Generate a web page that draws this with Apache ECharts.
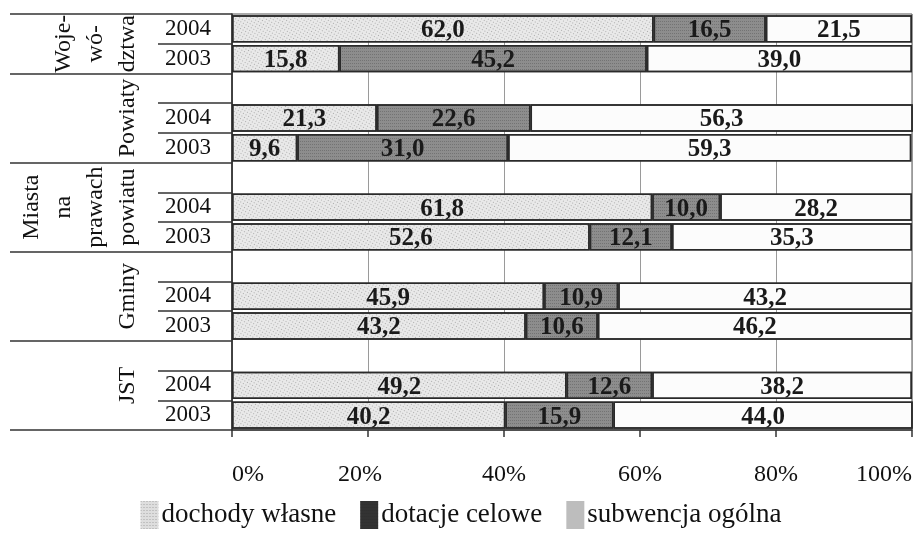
<!DOCTYPE html>
<html>
<head>
<meta charset="utf-8">
<script src="https://cdn.jsdelivr.net/npm/echarts@6/dist/echarts.min.js"></script>
<style>
html,body{margin:0;padding:0;background:#fff;}
#chart{width:922px;height:536px;}
</style>
</head>
<body>
<div id="chart"></div>
<script>
// ---- data ----
const groupLabels = ['Woje-\nwó-\ndztwa', 'Powiaty', 'Miasta\nna\nprawach\npowiatu', 'Gminy', 'JST'];
const years = ['2004', '2003'];
const seriesNames = ['dochody własne', 'dotacje celowe', 'subwencja ogólna'];
// rows top to bottom; null = blank spacer row
const dochody   = [62.0, 15.8, null, 21.3,  9.6, null, 61.8, 52.6, null, 45.9, 43.2, null, 49.2, 40.2];
const dotacje   = [16.5, 45.2, null, 22.6, 31.0, null, 10.0, 12.1, null, 10.9, 10.6, null, 12.6, 15.9];
const subwencja = [21.5, 39.0, null, 56.3, 59.3, null, 28.2, 35.3, null, 43.2, 46.2, null, 38.2, 44.0];
const xTicks = [0, 20, 40, 60, 80, 100];

// ---- build categories ----
const cats = [];
const catYear = [];
const groupRows = [];
groupLabels.forEach((g, gi) => {
  const rows = [];
  if (gi > 0) { rows.push(cats.length); cats.push('g' + gi + '_'); catYear.push(''); }
  years.forEach(y => { rows.push(cats.length); cats.push('g' + gi + '_' + y); catYear.push(y); });
  groupRows.push(rows);
});
const groupStart = groupRows.map(r => r[0]);

const FONT = '"Liberation Serif", "Times New Roman", serif';
const fmt = v => (v == null ? '' : v.toFixed(1).replace('.', ','));

const colors = ['#e9e9e9', '#8d8d8d', '#fcfcfc'];
const decals = [
  { symbol: 'rect', symbolSize: 1, dashArrayX: [1, 2], dashArrayY: [1, 2], color: 'rgba(60,60,60,0.35)' },
  { symbol: 'rect', symbolSize: 1, dashArrayX: [1, 1], dashArrayY: [1, 2], color: 'rgba(40,40,40,0.25)' },
  { symbol: 'none' }
];
const legendColors = ['#dedede', '#333333', '#bdbdbd'];

const chart = echarts.init(document.getElementById('chart'), null, { renderer: 'canvas' });

const option = {
  backgroundColor: '#ffffff',
  animation: false,
  aria: { enabled: true, decal: { show: true } },
  grid: { left: 232, right: 10, top: 14, bottom: 106, containLabel: false, show: true, borderColor: '#555', borderWidth: 1 },
  xAxis: {
    type: 'value', min: 0, max: 100, interval: 20,
    axisLine: { show: true, lineStyle: { color: '#333', width: 1.5 } },
    axisTick: { show: true, length: 7, inside: false, lineStyle: { color: '#333', width: 1.5 } },
    splitLine: { show: true, lineStyle: { color: '#9a9a9a', width: 1 } },
    axisLabel: {
      margin: 33, fontSize: 24, fontFamily: FONT, color: '#111',
      alignMinLabel: 'left', alignMaxLabel: 'right',
      formatter: v => (v === 20 ? '{l|20%}' : v + '%'),
      rich: { l: { fontSize: 24, fontFamily: FONT, color: '#111', padding: [0, 16, 0, 0] } }
    }
  },
  yAxis: [
    {
      type: 'category', inverse: true, data: cats,
      axisLine: { show: true, lineStyle: { color: '#222', width: 1.5 } },
      axisTick: { show: true, length: 74, interval: 0, lineStyle: { color: '#333', width: 1.5 } },
      axisLabel: { margin: 21, fontSize: 23, fontFamily: FONT, color: '#111', interval: 0,
        formatter: (v, i) => catYear[i] },
      splitLine: { show: false }
    },
    {
      type: 'category', inverse: true, data: cats, position: 'left', offset: 0,
      axisLine: { show: false },
      axisTick: { show: true, length: 222, interval: (i) => groupStart.indexOf(i) >= 0,
        lineStyle: { color: '#333', width: 1.5 } },
      axisLabel: { show: false },
      splitLine: { show: false }
    }
  ],
  legend: {
    bottom: 2, left: 'center', icon: 'rect', itemWidth: 18, itemHeight: 28, itemGap: 24,
    textStyle: { fontSize: 27, fontFamily: FONT, color: '#111', padding: [0, 0, 0, -2] },
    data: seriesNames.map((n, i) => ({ name: n, itemStyle: { color: legendColors[i], borderWidth: 0, decal: decals[i] } }))
  },
  series: [dochody, dotacje, subwencja].map((arr, i) => ({
    name: seriesNames[i], type: 'bar', stack: 'total', yAxisIndex: 0,
    barCategoryGap: '8%',
    data: arr,
    itemStyle: { color: colors[i], borderColor: '#2a2a2a', borderWidth: 1.5, decal: decals[i] },
    label: { show: true, position: 'inside', offset: [0, 2], formatter: p => fmt(p.value),
      fontSize: 25, fontWeight: 'bold', fontFamily: FONT, color: '#1a1a1a' }
  }))
};
chart.setOption(option);

// group labels, rotated, placed at the centre of each group's rows
const yPix = i => chart.convertToPixel({ yAxisIndex: 0 }, cats[i]);
const graphics = groupLabels.map((g, gi) => {
  const rows = groupRows[gi];
  const cy = (yPix(rows[0]) + yPix(rows[rows.length - 1])) / 2;
  return {
    type: 'text', x: 144, y: cy, rotation: Math.PI / 2, silent: true,
    style: { text: g, font: '24px ' + FONT, fill: '#111', align: 'center', verticalAlign: 'bottom',
      textAlign: 'center', textVerticalAlign: 'bottom', lineHeight: 32 }
  };
});
chart.setOption({ graphic: graphics });
</script>
</body>
</html>
